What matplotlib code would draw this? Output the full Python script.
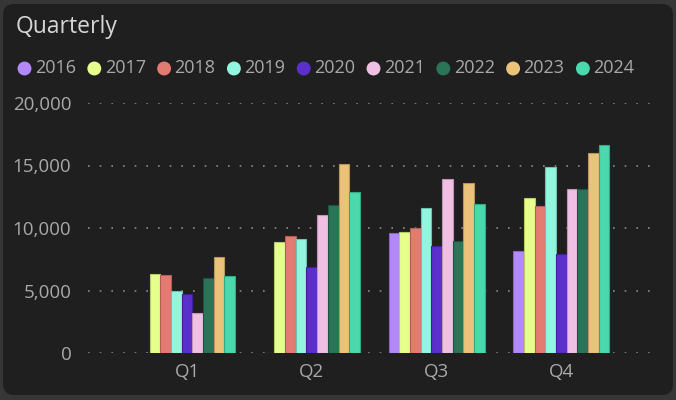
import matplotlib
matplotlib.use("Agg")
import matplotlib.pyplot as plt
from matplotlib.patches import FancyBboxPatch
from matplotlib.ticker import FuncFormatter
import numpy as np

plt.rcParams['font.family'] = ['Open Sans', 'DejaVu Sans']

# Data
quarters = ["Q1", "Q2", "Q3", "Q4"]
years = ["2016", "2017", "2018", "2019", "2020", "2021", "2022", "2023", "2024"]
v2016 = [0, 0, 9600, 8200]
v2017 = [6300, 8850, 9680, 12370]
v2018 = [6250, 9390, 9970, 11790]
v2019 = [4950, 9100, 11570, 14880]
v2020 = [4750, 6850, 8590, 7900]
v2021 = [3230, 11070, 13890, 13120]
v2022 = [6030, 11870, 8960, 13120]
v2023 = [7650, 15090, 13570, 15970]
v2024 = [6160, 12880, 11950, 16640]
series = [v2016, v2017, v2018, v2019, v2020, v2021, v2022, v2023, v2024]

colors = ["#b388fa", "#e6ff8c", "#e37b72", "#92f6de", "#5a2fcb",
          "#efc0e3", "#2a7458", "#ebc27a", "#4bd8ad"]
edges = ["#8a66c4", "#b5c96a", "#b25e57", "#6cc2ae", "#3f1f99",
         "#bf96b4", "#1d5240", "#b99658", "#34a985"]

fig = plt.figure(figsize=(6.76, 4.0), dpi=100)
fig.patch.set_facecolor("#363636")

# background card + legend layer in pixel coordinates
bg = fig.add_axes([0, 0, 1, 1], zorder=-1)
bg.set_xlim(0, 676)
bg.set_ylim(400, 0)
bg.axis("off")
card = FancyBboxPatch((3, 4), 670, 391, boxstyle="round,pad=0,rounding_size=11",
                      facecolor="#1f1f1f", edgecolor="none")
bg.add_patch(card)
bg.text(16, 27, "Quarterly", color="#d6d6d6", fontsize=16.5, va="center", ha="left")

for i, (yr, c) in enumerate(zip(years, colors)):
    x0 = 24.5 + i * 69.8
    bg.scatter([x0], [68.5], s=100, color=c, edgecolors="none")
    bg.text(x0 + 10.5, 68, yr, color="#a9a9a9", fontsize=13, va="center", ha="left")

ax = fig.add_axes([88 / 676, 1 - 353 / 400, (658 - 88) / 676, 250 / 400])
ax.set_facecolor("none")

x = np.arange(len(quarters))
width = 0.0856
n = len(series)
for i, vals in enumerate(series):
    offs = (i - (n - 1) / 2) * width
    ax.bar(x + offs, vals, width=width, color=colors[i], edgecolor=edges[i],
           linewidth=0.8, zorder=3)

ax.set_ylim(0, 20000)
ax.set_xlim(-0.795, 3.776)
ax.set_yticks([0, 5000, 10000, 15000, 20000])
ax.yaxis.set_major_formatter(FuncFormatter(lambda v, p: f"{int(v):,}"))
ax.set_xticks(x)
ax.set_xticklabels(quarters)
ax.grid(axis="y", color="#8a8a8a", linestyle=(0, (1, 6)), linewidth=1.2, zorder=0)
ax.tick_params(axis="both", length=0, colors="#a9a9a9", labelsize=13.5)
ax.tick_params(axis="y", pad=12)
ax.tick_params(axis="x", pad=7)
for s in ax.spines.values():
    s.set_visible(False)

fig.savefig("out.png", dpi=100, facecolor=fig.get_facecolor())
